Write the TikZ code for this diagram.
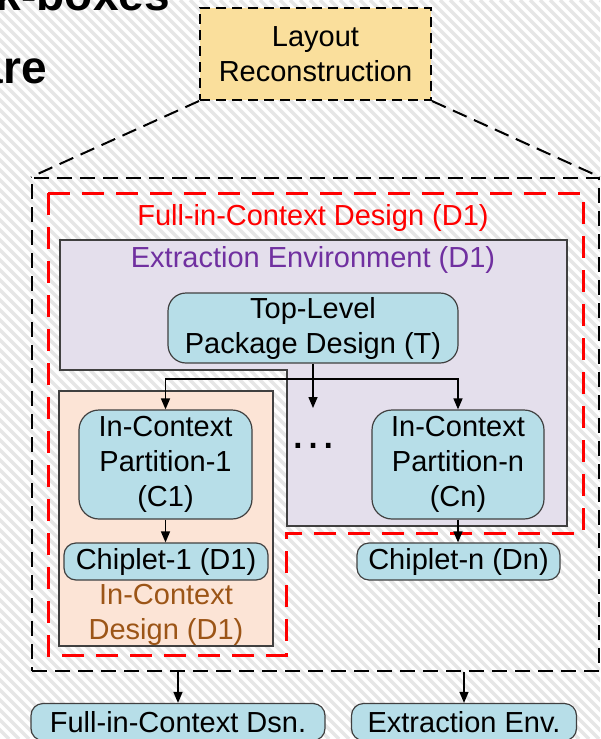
\documentclass[tikz,border=0pt]{standalone}
\usepackage{fontspec}
\setmainfont{Liberation Sans}
\usetikzlibrary{arrows.meta}

\definecolor{hatchgray}{HTML}{E6E6E6}
\definecolor{boxblue}{HTML}{B7DEE8}
\definecolor{boxpurple}{HTML}{E4DFEC}
\definecolor{boxorange}{HTML}{FCE4D6}
\definecolor{boxgold}{HTML}{FADF9C}
\definecolor{edgegray}{HTML}{404040}
\definecolor{txtpurple}{HTML}{7030A0}
\definecolor{txtbrown}{HTML}{9C5517}

\tikzset{
  lbl/.style={font=\fontsize{29}{35}\selectfont, align=center, inner sep=0pt},
  rbox/.style={lbl, draw=edgegray, line width=1.2pt, fill=boxblue, rounded corners=#1},
  rbox/.default=18pt,
  hatch/.style={draw=hatchgray, line width=3.5pt},
  blackdash/.style={draw=black, line width=2pt, dash pattern=on 15pt off 8pt},
  reddash/.style={draw=red, line width=3pt, dash pattern=on 22pt off 12pt},
  arr/.style={draw=black, line width=1.5pt, -{Triangle[length=11pt,width=9pt]}},
  wire/.style={draw=black, line width=1.5pt},
  headline/.style={font=\fontsize{46}{46}\selectfont\bfseries, inner sep=0pt, anchor=base east}
}

\begin{document}
\begin{tikzpicture}[x=1pt, y=-1pt]
\useasboundingbox (0,0) rectangle (600,739);
\clip (0,0) rectangle (600,739);

% striped background
\fill[white] (0,0) rectangle (600,739);
\foreach \i in {-750,-740,...,610} \draw[hatch] (\i,0) -- ++(739,739);

% heading fragments
\node[headline] (head1) at (170,10) {ck-boxes};
\node[headline] (head2) at (47,83) {are};

% extraction environment (L-shaped region)
\filldraw[fill=boxpurple, draw=edgegray, line width=1.2pt]
  (60,240) -- (567,240) -- (567,526) -- (287,526) -- (287,370) -- (60,370) -- cycle;
\node[lbl, text=txtpurple] (envlbl) at (313,260) {Extraction Environment (D1)};

% full-in-context design boundary
\draw[reddash] (48,193) -- (583,193) -- (583,533) -- (286,533) -- (286,655) -- (48,655) -- cycle;
\node[lbl, text=red] (fullbl) at (313,218) {Full-in-Context Design (D1)};

% in-context design region
\filldraw[fill=boxorange, draw=edgegray, line width=1.2pt] (59,391) rectangle (273,646);
\node[lbl, text=txtbrown] (icdlbl) at (166,615) {In-Context\\Design (D1)};

% outer reconstruction scope
\node[blackdash, minimum width=567pt, minimum height=493pt, inner sep=0pt] (outer) at (315.5,424.5) {};

% layout reconstruction box
\node[lbl, draw=black, line width=2pt, dash pattern=on 10pt off 6pt, fill=boxgold,
      minimum width=231pt, minimum height=92pt] (layout) at (315.5,54) {Layout\\Reconstruction};
\draw[blackdash] (layout.south west) -- (outer.north west);
\draw[blackdash] (layout.south east) -- (outer.north east);

% design nodes
\node[rbox, minimum width=290pt, minimum height=70pt] (top) at (313,328) {Top-Level\\Package Design (T)};
\node[rbox=20pt, minimum width=173pt, minimum height=109pt] (p1) at (165.5,464.5) {In-Context\\Partition-1\\(C1)};
\node[rbox=20pt, minimum width=172pt, minimum height=109pt] (pn) at (458,464.5) {In-Context\\Partition-n\\(Cn)};
\node[rbox=12pt, minimum width=204pt, minimum height=37pt] (c1) at (166,561.5) {Chiplet-1 (D1)};
\node[rbox=12pt, minimum width=203pt, minimum height=37pt] (cn) at (458.5,561.5) {Chiplet-n (Dn)};
\node[lbl, font=\fontsize{48}{48}\selectfont] (dots) at (313,446) {…};
\coordinate (dotsin) at (313,408);

\node[rbox=12pt, minimum width=294pt, minimum height=37pt] (fdsn) at (178,722) {Full-in-Context Dsn.};
\node[rbox=12pt, minimum width=225pt, minimum height=37pt] (eenv) at (464,722) {Extraction Env.};

% connectors
\coordinate (split) at (313,379);
\draw[wire] (top.south) -- (split);
\draw[arr] (split) -| (p1.north);
\draw[arr] (split) -| (pn.north);
\draw[arr] (split) -- (dotsin);
\draw[arr] (p1.south) -- (p1.south |- c1.north);
\draw[arr] (pn.south) -- (pn.south |- cn.north);
\draw[arr] (outer.south -| fdsn.north) -- (fdsn.north);
\draw[arr] (outer.south -| eenv.north) -- (eenv.north);
\end{tikzpicture}
\end{document}
